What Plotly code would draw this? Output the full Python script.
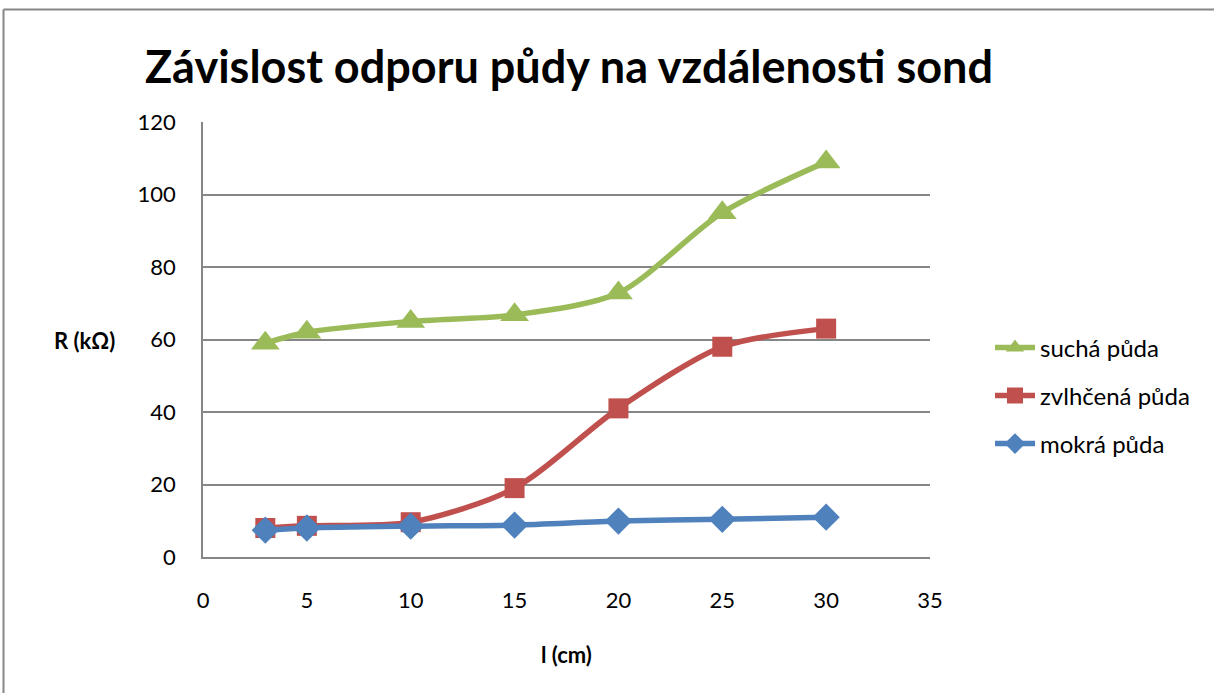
import plotly.graph_objects as go

# Data
l_cm = [3, 5, 10, 15, 20, 25, 30]
sucha = [59, 62, 65, 66.8, 72.8, 95, 109]
zvlhcena = [8, 8.6, 9.6, 19, 41, 58, 63]
mokra = [7.4, 8, 8.5, 8.8, 9.9, 10.4, 11]

series_names = ["suchá půda", "zvlhčená půda", "mokrá půda"]
colors = ["#9BBB59", "#C0504D", "#4F81BD"]
symbols = ["triangle-up", "square", "diamond"]
sizes = [25, 20, 21]

FONT = "Lato"
L, R, T, B = 203, 284, 122, 136
W, H = 1214, 693
pw, ph = W - L - R, H - T - B

def px_x(px):
    return (px - L) / pw

def px_y(py):
    return (H - B - py) / ph

fig = go.Figure()
legend_ids = ["legend", "legend2", "legend3"]
legend_y_px = [348, 396, 444]
for name, ys, c, s, sz, lg in zip(series_names, [sucha, zvlhcena, mokra], colors, symbols, sizes, legend_ids):
    fig.add_trace(go.Scatter(
        x=l_cm, y=ys, name=name, mode="lines+markers",
        line=dict(color=c, width=5.5, shape="spline", smoothing=0.8),
        marker=dict(symbol=s, size=sz, color=c),
        legend=lg,
    ))

legend_common = dict(
    xanchor="left", yanchor="middle", bgcolor="rgba(0,0,0,0)",
    font=dict(family=FONT, size=24, color="#000000"),
    itemwidth=40,
)
layout_legends = {}
for lg, ypx in zip(legend_ids, legend_y_px):
    layout_legends[lg] = dict(legend_common, x=px_x(990), y=px_y(ypx))

frame = dict(color="#868686", width=2)

fig.update_layout(
    width=W, height=H,
    margin=dict(l=L, r=R, t=T, b=B),
    paper_bgcolor="white", plot_bgcolor="white",
    font=dict(family=FONT, size=22, color="#000000"),
    showlegend=True,
    title=dict(
        text="<b>Závislost odporu půdy na vzdálenosti sond</b>",
        font=dict(family=FONT, size=45, color="#000000"),
        xref="paper", x=px_x(569), xanchor="center",
        yref="container", y=1 - 67 / H, yanchor="middle",
    ),
    xaxis=dict(
        range=[0, 35], dtick=5, tick0=0, showgrid=False, zeroline=False,
        showline=True, linecolor="#868686", linewidth=1.5,
        ticks="", ticklabelstandoff=23,
        tickfont=dict(family=FONT, size=22, color="#000000"),
    ),
    yaxis=dict(
        range=[0, 120], dtick=20, tick0=0, showgrid=True, gridcolor="#868686", gridwidth=1.5,
        zeroline=False, showline=True, linecolor="#868686", linewidth=1.5,
        ticks="", ticklabelstandoff=21,
        tickfont=dict(family=FONT, size=22, color="#000000"),
    ),
    annotations=[
        dict(text="<b>R (kΩ)</b>", xref="paper", yref="paper", x=px_x(84), y=px_y(340),
             xanchor="center", yanchor="middle", showarrow=False,
             font=dict(family=FONT, size=22, color="#000000")),
        dict(text="<b>l (cm)</b>", xref="paper", yref="paper", x=px_x(566), y=px_y(654),
             xanchor="center", yanchor="middle", showarrow=False,
             font=dict(family=FONT, size=22, color="#000000")),
    ],
    shapes=[
        dict(type="line", xref="paper", yref="paper",
             x0=px_x(3.5), x1=px_x(1214), y0=px_y(9.5), y1=px_y(9.5),
             line=frame, layer="below"),
        dict(type="line", xref="paper", yref="paper",
             x0=px_x(3.5), x1=px_x(3.5), y0=px_y(9.5), y1=px_y(693),
             line=frame, layer="below"),
    ],
    **layout_legends,
)

fig.write_html("out.html", config={"displayModeBar": False},
               post_script="document.body.style.margin='0';")
